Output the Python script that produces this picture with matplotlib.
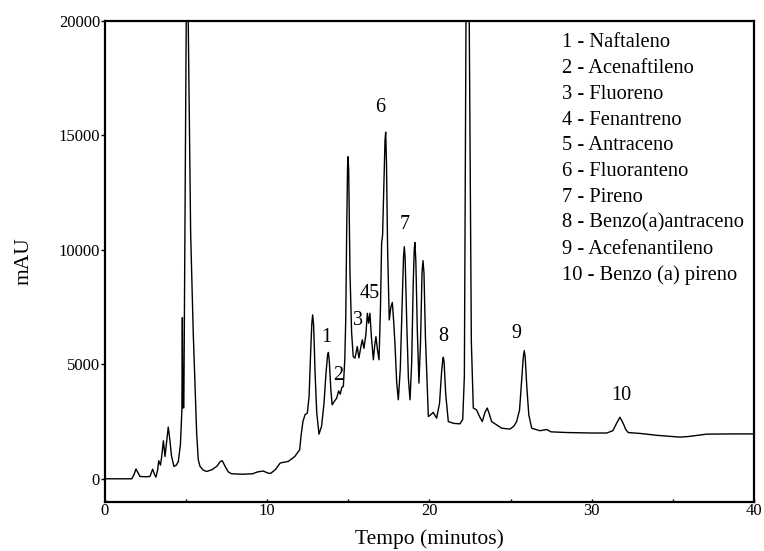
import matplotlib
matplotlib.use("Agg")
import matplotlib.pyplot as plt
from matplotlib.ticker import MultipleLocator

plt.rcParams['font.family'] = ['Liberation Serif', 'DejaVu Serif']

# chromatogram: time (min) and signal (mAU)
tempo = [0.0, 1.65, 1.8, 1.91, 2.05, 2.16, 2.5, 2.77, 2.94, 3.05, 3.14, 3.25, 3.31, 3.42,
         3.5, 3.6, 3.7, 3.8, 3.9, 4.0, 4.1, 4.25, 4.4, 4.52, 4.65, 4.74, 4.77, 4.8, 4.86,
         5.06, 5.13, 5.28, 5.44, 5.65, 5.75, 5.86, 6.05, 6.27, 6.6, 6.9, 7.1, 7.23, 7.4,
         7.6, 7.8, 8.5, 9.1, 9.4, 9.75, 10.0, 10.2, 10.5, 10.8, 11.3, 11.7, 12.0, 12.08,
         12.2, 12.33, 12.47, 12.58, 12.68, 12.75, 12.8, 12.86, 12.95, 13.05, 13.19,
         13.35, 13.5, 13.62, 13.72, 13.77, 13.83, 13.92, 14.0, 14.15, 14.28, 14.4, 14.5,
         14.6, 14.69, 14.78, 14.84, 14.9, 14.95, 14.98, 15.02, 15.1, 15.2, 15.3, 15.41,
         15.55, 15.65, 15.78, 15.86, 15.96, 16.08, 16.17, 16.25, 16.33, 16.42, 16.54,
         16.62, 16.7, 16.8, 16.89, 16.98, 17.05, 17.11, 17.2, 17.26, 17.3, 17.35, 17.42,
         17.52, 17.62, 17.71, 17.8, 17.87, 17.98, 18.08, 18.2, 18.32, 18.4, 18.45,
         18.5, 18.6, 18.7, 18.8, 18.9, 19.0, 19.06, 19.1, 19.16, 19.25, 19.35, 19.45,
         19.54, 19.6, 19.66, 19.75, 19.93, 20.08, 20.23, 20.44, 20.62, 20.75, 20.82,
         20.85, 20.9, 21.0, 21.16, 21.5, 21.88, 22.05, 22.15, 22.25, 22.35, 22.45,
         22.58, 22.7, 22.9, 23.1, 23.25, 23.42, 23.56, 23.7, 23.83, 24.45, 24.96,
         25.2, 25.37, 25.55, 25.68, 25.78, 25.84, 25.9, 26.0, 26.12, 26.3, 26.8,
         27.22, 27.5, 28.5, 30.0, 30.92, 31.3, 31.55, 31.74, 31.95, 32.1, 32.25, 33.0,
         34.0, 35.44, 36.0, 37.08, 38.5, 40.0]
sinal = [0, 0, 200, 430, 250, 100, 90, 100, 420, 200, 70, 400, 790, 600,
         1000, 1660, 975, 1600, 2260, 1700, 1000, 540, 600, 750, 1500, 3000, 7040, 3100, 3100,
         26000, 20000, 10740, 6370, 2000, 830, 540, 380, 320, 400, 550, 750, 790, 550,
         300, 220, 200, 220, 300, 340, 260, 230, 400, 690, 760, 975, 1270, 1850,
         2500, 2800, 2870, 3600, 5600, 6800, 7160, 6700, 4600, 2900, 1950,
         2300, 3300, 4600, 5400, 5520, 5100, 3900, 3230, 3400, 3520, 3840, 3700,
         4000, 4030, 5200, 7000, 11000, 13600, 14070, 13500, 9000, 6400, 5340, 5270,
         5780, 5280, 5800, 6070, 5700, 6300, 7230, 6800, 7230, 6200, 5200,
         5800, 6210, 5600, 5200, 7500, 10300, 10650, 13200, 14800, 15140, 13800, 10000,
         6940, 7500, 7700, 6800, 5930, 4200, 3450, 4800, 7800, 9700, 10140,
         9600, 6800, 4400, 3450, 5000, 8600, 10000, 10320, 9500, 6500, 4180, 6000,
         9000, 9530, 9000, 6200, 2720, 2800, 2900, 2650, 3300, 4700, 5200,
         5310, 5100, 3700, 2500, 2420, 2400, 2600, 4500, 20000, 26000, 20000,
         6000, 3090, 3010, 2700, 2500, 2900, 3090, 2800, 2500, 2210, 2170,
         2300, 2500, 3000, 4300, 5300, 5600, 5300, 4000, 2800, 2210, 2100,
         2150, 2050, 2020, 2000, 2000, 2100, 2450, 2690, 2400, 2150, 2020, 1980,
         1900, 1820, 1850, 1950, 1960, 1960]

# peak numbers and where they are written
picos = ['1', '2', '3', '45', '6', '7', '8', '9', '10']
picos_t = [13.67, 14.38, 15.57, 16.29, 16.95, 18.49, 20.85, 25.33, 31.85]
picos_v = [6160, 4500, 6910, 8110, 16240, 11090, 6210, 6360, 3620]

compostos = ['1 - Naftaleno', '2 - Acenaftileno', '3 - Fluoreno', '4 - Fenantreno',
             '5 - Antraceno', '6 - Fluoranteno', '7 - Pireno', '8 - Benzo(a)antraceno',
             '9 - Acefenantileno', '10 - Benzo (a) pireno']

fig = plt.figure(figsize=(7.64, 5.51), dpi=100)
ax = fig.add_axes([0.1374, 0.0895, 0.8495, 0.8725])

ax.plot(tempo, sinal, color='black', lw=1.0)

for lab, t, v in zip(picos, picos_t, picos_v):
    ax.text(t, v, lab, fontsize=14.5, ha='center', va='center')

for i, nome in enumerate(compostos):
    ax.text(0.704, 0.955 - i * 0.0537, nome, transform=ax.transAxes,
            fontsize=14.8, ha='left', va='center')

ax.set_xlim(0, 40)
ax.set_ylim(-1000, 20000)
ax.xaxis.set_major_locator(MultipleLocator(10))
ax.xaxis.set_minor_locator(MultipleLocator(5))
ax.yaxis.set_major_locator(MultipleLocator(5000))
ax.tick_params(axis='x', which='both', direction='in', length=2, width=1, labelsize=12, pad=1)
ax.tick_params(axis='y', direction='out', length=3, width=1, labelsize=12, pad=0.5)
for s in ax.spines.values():
    s.set_linewidth(1.6)

ax.set_xlabel('Tempo (minutos)', fontsize=15.5, labelpad=7)
ax.set_ylabel('mAU', fontsize=15.5, labelpad=18)

fig.savefig('out.png', dpi=100)
